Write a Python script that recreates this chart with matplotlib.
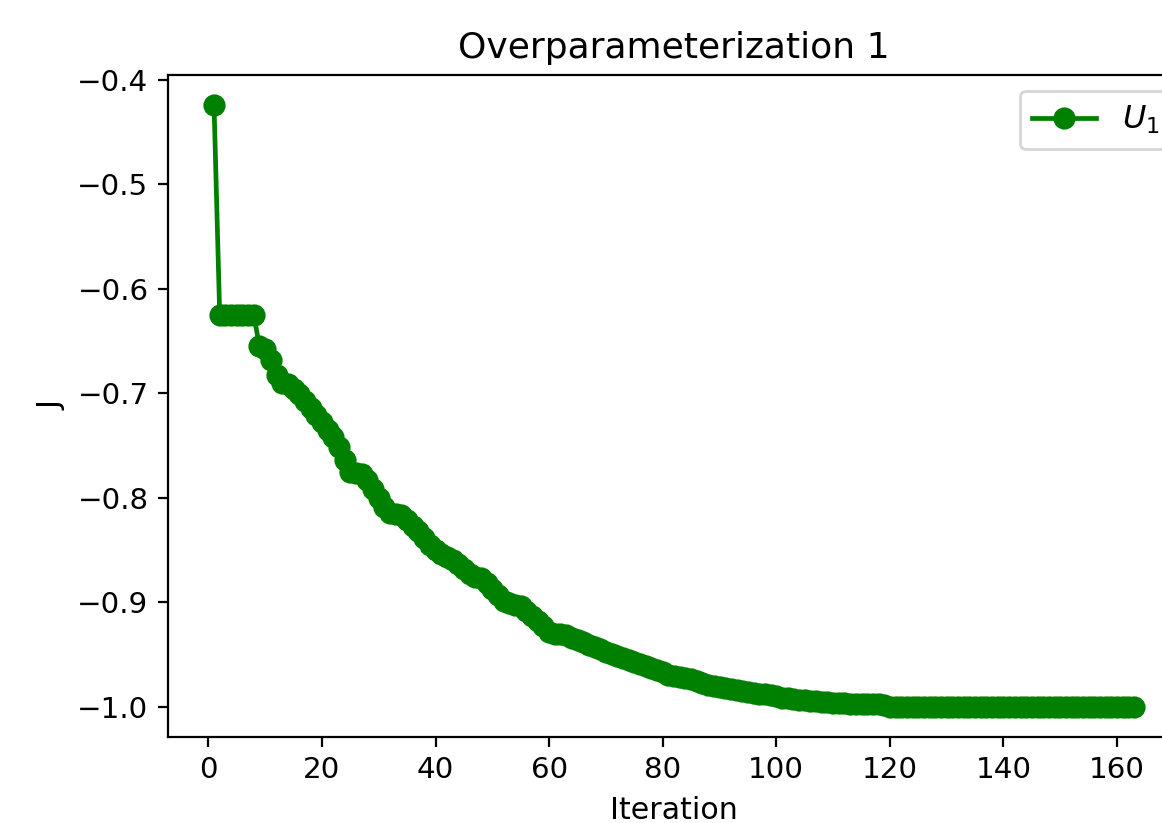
#Importing Libraries
import matplotlib
matplotlib.use("Agg")
import matplotlib.pyplot as plt

#Values: objective J per iteration
J = [
    -0.424,
    -0.625, -0.625, -0.625, -0.625, -0.625, -0.625, -0.625,
    -0.655, -0.657, -0.668, -0.682, -0.690, -0.691, -0.696, -0.701,
    -0.707, -0.714, -0.721, -0.727, -0.735, -0.742, -0.751, -0.764,
    -0.775, -0.776, -0.777, -0.783, -0.791, -0.800, -0.809, -0.814,
    -0.815, -0.816, -0.821, -0.827, -0.832, -0.838, -0.845, -0.850,
    -0.854, -0.857, -0.859, -0.863, -0.868, -0.873, -0.876, -0.877,
    -0.881, -0.887, -0.893, -0.899, -0.901, -0.902, -0.903, -0.908,
    -0.913, -0.918, -0.923, -0.928, -0.930, -0.930, -0.931, -0.934,
    -0.936, -0.938, -0.941, -0.943, -0.945, -0.947, -0.949, -0.951,
    -0.953, -0.955, -0.957, -0.959, -0.961, -0.963, -0.965, -0.967,
    -0.969, -0.970, -0.971, -0.972, -0.973, -0.975, -0.977, -0.979,
    -0.980, -0.981, -0.982, -0.983, -0.984, -0.985, -0.986, -0.987,
    -0.988, -0.988, -0.989, -0.990, -0.991, -0.991, -0.992, -0.993,
    -0.993, -0.994, -0.994, -0.995, -0.995, -0.996, -0.996, -0.996,
    -0.997, -0.997, -0.997, -0.997, -0.997, -0.997, -0.998,
    -1.000, -1.000, -1.000, -1.000, -1.000, -1.000, -1.000, -1.000,
    -1.000, -1.000, -1.000, -1.000, -1.000, -1.000, -1.000, -1.000,
    -1.000, -1.000, -1.000, -1.000, -1.000, -1.000, -1.000, -1.000,
    -1.000, -1.000, -1.000, -1.000, -1.000, -1.000, -1.000, -1.000,
    -1.000, -1.000, -1.000, -1.000, -1.000, -1.000, -1.000, -1.000,
    -1.000, -1.000, -1.000, -1.000,
]
iterations = list(range(1, len(J) + 1))

title = "Overparameterization 1"
series_label = "$U_1$"

#Figure: the reference is a crop, so the axes run past the right edge
fig = plt.figure(figsize=(5.81, 4.115), dpi=200)
ax = fig.add_axes([0.1446, 0.1045, 0.871, 0.8044])

ax.plot(iterations, J, color="green", marker="o", markersize=7,
        linewidth=1.7, label=series_label)
ax.set_title(title, fontsize=13)
ax.set_xlabel("Iteration", fontsize=10.8)
ax.set_ylabel("J", fontsize=10.8)
ax.set_xticks(range(0, 161, 20))
ax.set_yticks([-1.0, -0.9, -0.8, -0.7, -0.6, -0.5, -0.4])
ax.tick_params(labelsize=10.6)
ax.legend(loc="upper right", fontsize=11.5, bbox_to_anchor=(1.008, 1.0))

fig.savefig("out.png", dpi=200)
